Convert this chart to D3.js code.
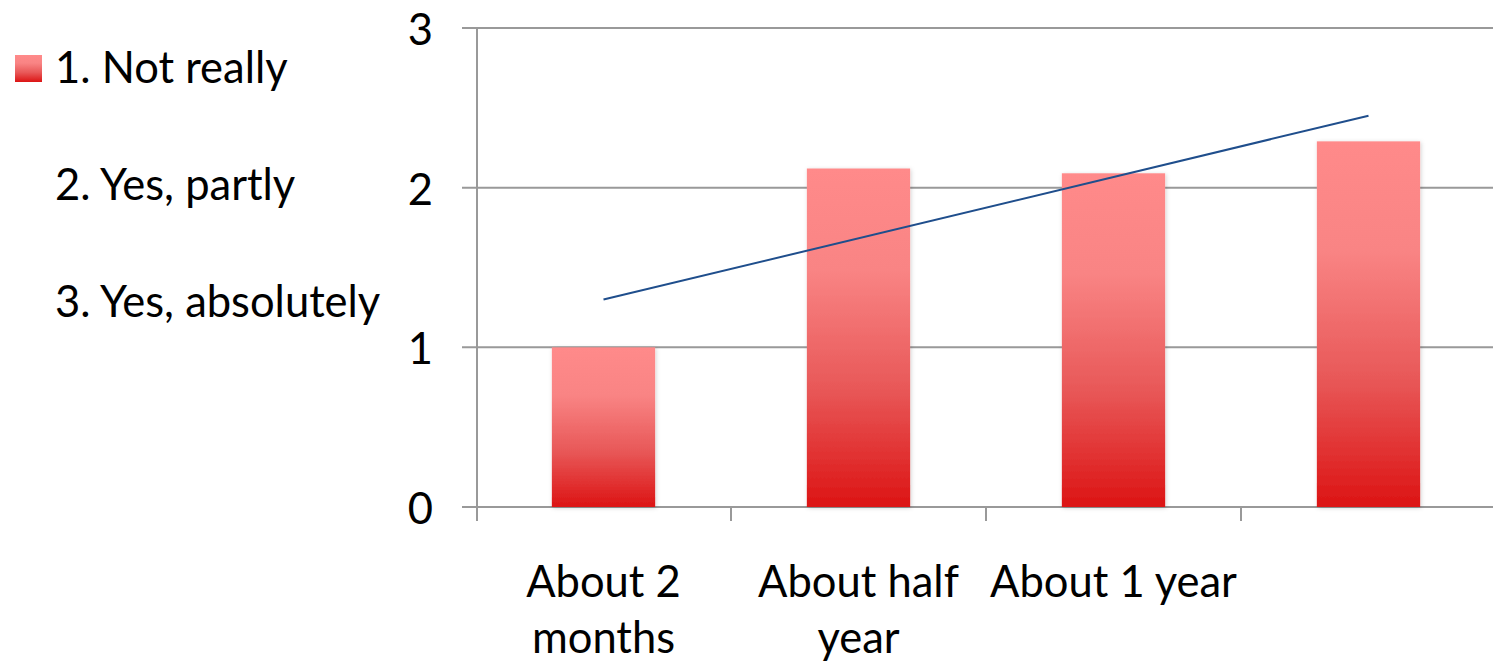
<!DOCTYPE html>
<html>
<head>
<meta charset="utf-8">
<script src="https://cdn.jsdelivr.net/npm/d3@7"></script>
<style>
  html, body { margin: 0; padding: 0; background: #fff; }
  svg { display: block; }
  text { font-family: Lato, "Open Sans", sans-serif; fill: #000; }
</style>
</head>
<body>
<svg id="chart" width="1493" height="662"></svg>
<script>
// Survey result: mean answer by time elapsed
const categories = ["About 2 months", "About half year", "About 1 year", ""];
const categoryLines = [["About 2", "months"], ["About half", "year"], ["About 1 year"], []];
const values = [1.0, 2.12, 2.09, 2.29];
const yTicks = [0, 1, 2, 3];
const legendLabels = ["1. Not really", "2. Yes, partly", "3. Yes, absolutely"];

const svg = d3.select("#chart");
const plotLeft = 476, plotRight = 1496, plotTop = 28, plotBottom = 507;
const fontPx = "43.5px";

const x = d3.scaleBand().domain(categories).range([plotLeft, plotRight]).paddingInner(0).paddingOuter(0);
const y = d3.scaleLinear().domain([0, 3]).range([plotBottom, plotTop]);

// Gradient fill for the bars and legend swatch
const defs = svg.append("defs");
const grad = defs.append("linearGradient").attr("id", "barGrad")
  .attr("x1", 0).attr("y1", 0).attr("x2", 0).attr("y2", 1);
grad.append("stop").attr("offset", "0%").attr("stop-color", "#ff8a8a");
grad.append("stop").attr("offset", "30%").attr("stop-color", "#f98484");
grad.append("stop").attr("offset", "65%").attr("stop-color", "#e85858");
grad.append("stop").attr("offset", "100%").attr("stop-color", "#dc1414");

const shadow = defs.append("filter").attr("id", "barShadow")
  .attr("x", "-10%").attr("y", "-5%").attr("width", "120%").attr("height", "110%");
shadow.append("feDropShadow").attr("dx", 1).attr("dy", 1).attr("stdDeviation", 2)
  .attr("flood-color", "#000").attr("flood-opacity", 0.18);

// Horizontal gridlines with left tick stubs
svg.append("g").selectAll("line").data(yTicks).join("line")
  .attr("x1", plotLeft - 14).attr("x2", 1493)
  .attr("y1", d => y(d)).attr("y2", d => y(d))
  .attr("stroke", "#999").attr("stroke-width", 2);

// Y tick labels
svg.append("g").selectAll("text").data(yTicks).join("text")
  .attr("x", 433).attr("y", d => y(d))
  .attr("text-anchor", "end").attr("dominant-baseline", "central")
  .style("font-size", fontPx)
  .text(d => d);

// Vertical axis line
svg.append("line")
  .attr("x1", plotLeft + 1).attr("x2", plotLeft + 1)
  .attr("y1", plotTop).attr("y2", plotBottom + 14)
  .attr("stroke", "#999").attr("stroke-width", 2);

// Category tick marks between slots
svg.append("g").selectAll("line").data(categories.slice(1)).join("line")
  .attr("x1", d => x(d)).attr("x2", d => x(d))
  .attr("y1", plotBottom).attr("y2", plotBottom + 14)
  .attr("stroke", "#999").attr("stroke-width", 2);

// Bars
const barW = x.bandwidth() * 0.405;
svg.append("g").selectAll("rect").data(values).join("rect")
  .attr("x", (d, i) => x(categories[i]) + x.bandwidth() / 2 - barW / 2)
  .attr("width", barW)
  .attr("y", d => y(d))
  .attr("height", d => y(0) - y(d))
  .attr("fill", "url(#barGrad)")
  .attr("filter", "url(#barShadow)");

// Linear trendline fitted to the bar values
const n = values.length;
const xs = d3.range(1, n + 1);
const mx = d3.mean(xs), my = d3.mean(values);
const slope = d3.sum(xs, (xi, i) => (xi - mx) * (values[i] - my)) / d3.sum(xs, xi => (xi - mx) ** 2);
const icpt = my - slope * mx;
const trend = [[0, icpt + slope * 1], [n - 1, icpt + slope * n]];
svg.append("path")
  .datum(trend)
  .attr("d", d3.line()
    .x(d => x(categories[d[0]]) + x.bandwidth() / 2)
    .y(d => y(d[1])))
  .attr("fill", "none").attr("stroke", "#1f4e8c").attr("stroke-width", 2);

// Category labels (wrapped)
const catG = svg.append("g");
categories.forEach((c, i) => {
  const cx = x(c) + x.bandwidth() / 2;
  const t = catG.append("text")
    .attr("x", cx)
    .attr("y", 597)
    .attr("text-anchor", "middle")
    .style("font-size", fontPx);
  categoryLines[i].forEach((line, j) => {
    t.append("tspan").attr("x", cx)
      .attr("dy", j === 0 ? 0 : 56).text(line);
  });
});

// Legend
const leg = svg.append("g");
leg.append("rect").attr("x", 15).attr("y", 55).attr("width", 27).attr("height", 27)
  .attr("fill", "url(#barGrad)");
legendLabels.forEach((l, i) => {
  leg.append("text").attr("x", 55).attr("y", 83 + i * 117)
    .style("font-size", fontPx).text(l);
});
</script>
</body>
</html>
